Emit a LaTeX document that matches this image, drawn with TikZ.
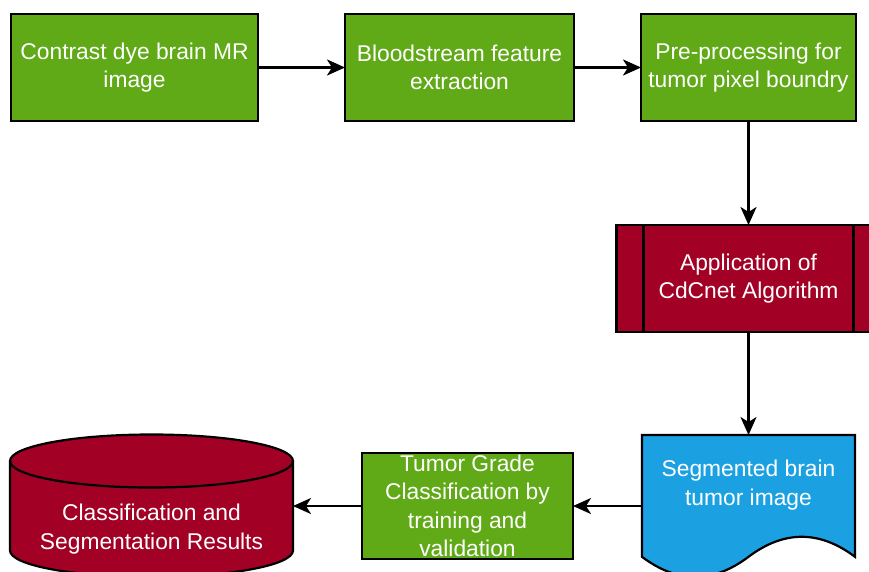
\documentclass[tikz,border=0pt]{standalone}
\usepackage{fontspec}
\setmainfont{Liberation Sans}
\usetikzlibrary{positioning,arrows.meta,backgrounds}
\definecolor{boxgreen}{HTML}{60A917}
\definecolor{boxred}{HTML}{A20025}
\definecolor{docblue}{HTML}{1BA1E2}
\tikzset{
  lbl/.style={font=\fontsize{22.8}{28.5}\selectfont, text=white, align=center},
  greenbox/.style={lbl, draw=black, line width=2.2pt, fill=boxgreen,
    minimum height=107pt, inner sep=0pt, outer sep=0pt},
  procbox/.style={lbl, draw=black, line width=2.2pt, fill=boxred,
    minimum width=264pt, minimum height=107pt, inner sep=0pt, outer sep=0pt},
  docbox/.style={lbl, minimum width=213pt, minimum height=100pt, inner sep=0pt, outer sep=0pt},
  dbbox/.style={lbl, minimum width=283pt, minimum height=136pt, inner sep=0pt, outer sep=0pt},
  outline/.style={line width=2.2pt, draw=black},
  flow/.style={line width=2.2pt, -{Stealth[length=18pt,width=16pt,inset=5pt]}}
}
\begin{document}
\begin{tikzpicture}[x=1pt, y=1pt]
\useasboundingbox (0,0) rectangle (869,-571);
\node[greenbox, minimum width=247pt] (n0) at (134.5,-67.5) {Contrast dye brain MR\\image};
\node[greenbox, minimum width=229pt, right=87pt of n0] (n1) {Bloodstream feature\\extraction};
\node[greenbox, minimum width=215pt, right=67pt of n1] (n2) {Pre-processing for\\tumor pixel boundry};
\node[procbox, below=104pt of n2] (n3) {Application of\\CdCnet Algorithm};
\draw[outline] ([xshift=27pt]n3.north west) -- ([xshift=27pt]n3.south west);
\draw[outline] ([xshift=-27pt]n3.north east) -- ([xshift=-27pt]n3.south east);
\node[docbox, below=103pt of n3] (n4) {Segmented brain\\tumor image};
\begin{scope}[on background layer, shift={(n4.north west)}]
  \draw[outline, fill=docblue] (0,0) -- (213,0) -- (213,-121.8)
    .. controls (177.5,-95.1) and (142,-95.1) .. (106.5,-121.8)
    .. controls (71,-148.5) and (35.5,-148.5) .. (0,-121.8) -- cycle;
\end{scope}
\node[greenbox, minimum width=211pt, minimum height=106pt, left=69pt of n4, yshift=-21pt] (n5)
  {Tumor Grade\\Classification by\\training and\\validation};
\node[dbbox, left=69pt of n5, yshift=-23pt] (n6) {Classification and\\Segmentation Results};
\begin{scope}[on background layer, shift={(n6.north west)}]
  \draw[outline, fill=boxred] (0,0) -- (0,-89.5) arc (180:360:141.5 and 26.5)
    -- (283,0) arc (0:180:141.5 and 26.5) -- cycle;
  \draw[outline] (0,0) arc (180:360:141.5 and 26.5);
\end{scope}
% connectors
\draw[flow] (n0) -- (n1);
\draw[flow] (n1) -- (n2);
\draw[flow] (n2) -- (n3);
\draw[flow] (n3) -- (n4);
\draw[flow] (n5.east -| n4.west) -- (n5);
\draw[flow] (n5) -- (n5.west -| n6.east);
\end{tikzpicture}
\end{document}
